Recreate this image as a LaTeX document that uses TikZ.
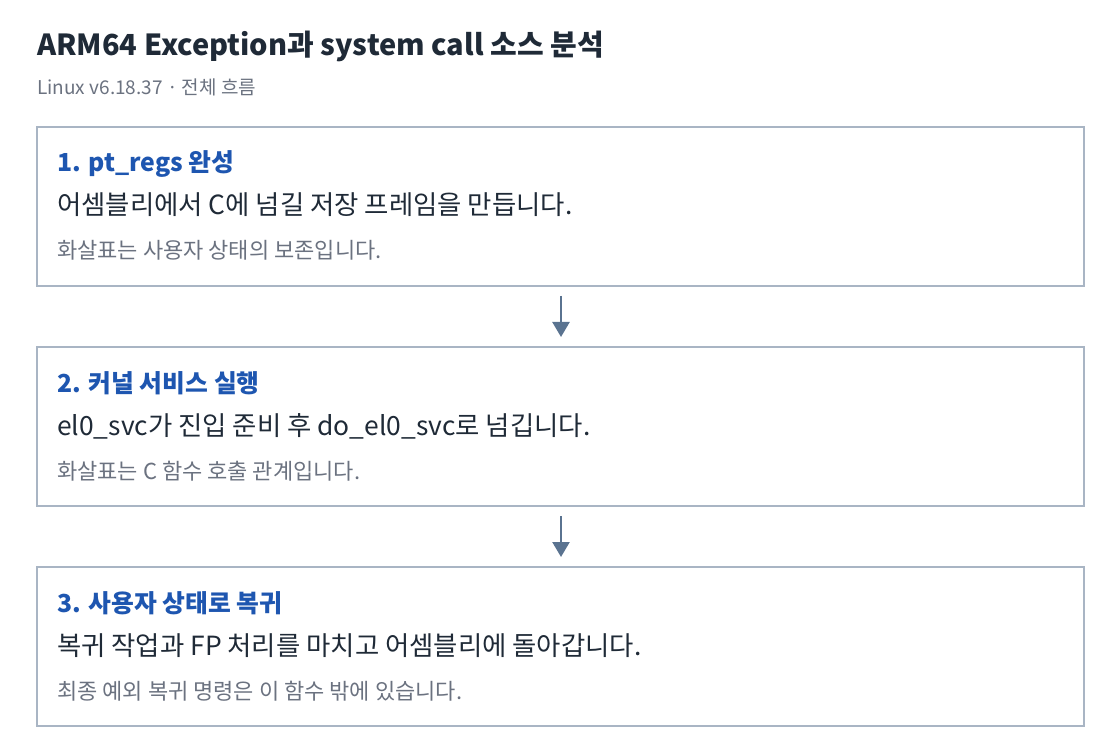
\documentclass[tikz,border=0pt]{standalone}
\usepackage{fontspec}
\setmainfont{Noto Sans CJK KR}
\usetikzlibrary{arrows.meta}
\definecolor{ink}{HTML}{1F2A37}
\definecolor{blueT}{HTML}{1E56B0}
\definecolor{gray}{HTML}{6B7280}
\definecolor{frame}{HTML}{A9B5C4}
\definecolor{arr}{HTML}{5A7390}
\tikzset{
  x=1pt,y=-1pt,
  card/.style={draw=frame,line width=1.2pt,fill=white},
  ttl/.style={anchor=base west,inner sep=0,font=\fontsize{29}{32}\selectfont\bfseries,text=ink},
  sub/.style={anchor=base west,inner sep=0,font=\fontsize{19}{22}\selectfont,text=gray},
  head/.style={anchor=base west,inner sep=0,font=\fontsize{24.8}{28}\selectfont\bfseries,text=blueT},
  body/.style={anchor=base west,inner sep=0,font=\fontsize{26.4}{30}\selectfont,text=ink},
  note/.style={anchor=base west,inner sep=0,font=\fontsize{22}{25}\selectfont,text=gray},
  flow/.style={draw=arr,line width=2.4pt,-{Triangle[width=17pt,length=15pt]}},
}
\begin{document}
\begin{tikzpicture}
\useasboundingbox[fill=white] (0,0) rectangle (1120,754);
\node[ttl] (title) at (37,56) {ARM64 Exception과 system call 소스 분석};
\node[sub] (subtitle) at (37,95) {Linux v6.18.37 · 전체 흐름};

\path[card] (37,127) rectangle (1084,286);
\coordinate (b1s) at (561,286);
\node[head] (h1) at (57,172) {1. pt\_regs 완성};
\node[body] (t1) at (57,215) {어셈블리에서 C에 넘길 저장 프레임을 만듭니다.};
\node[note] (n1) at (57,259) {화살표는 사용자 상태의 보존입니다.};

\path[card] (37,347) rectangle (1084,506);
\coordinate (b2n) at (561,347);
\coordinate (b2s) at (561,506);
\node[head] (h2) at (57,392) {2. 커널 서비스 실행};
\node[body] (t2) at (57,435) {el0\_svc가 진입 준비 후 do\_el0\_svc로 넘깁니다.};
\node[note] (n2) at (57,479) {화살표는 C 함수 호출 관계입니다.};

\path[card] (37,567) rectangle (1084,726);
\coordinate (b3n) at (561,567);
\node[head] (h3) at (57,612) {3. 사용자 상태로 복귀};
\node[body] (t3) at (57,655) {복귀 작업과 FP 처리를 마치고 어셈블리에 돌아갑니다.};
\node[note] (n3) at (57,699) {최종 예외 복귀 명령은 이 함수 밖에 있습니다.};

\draw[flow] ([yshift=-10pt]b1s) -- ([yshift=10pt]b2n);
\draw[flow] ([yshift=-10pt]b2s) -- ([yshift=10pt]b3n);
\end{tikzpicture}
\end{document}
